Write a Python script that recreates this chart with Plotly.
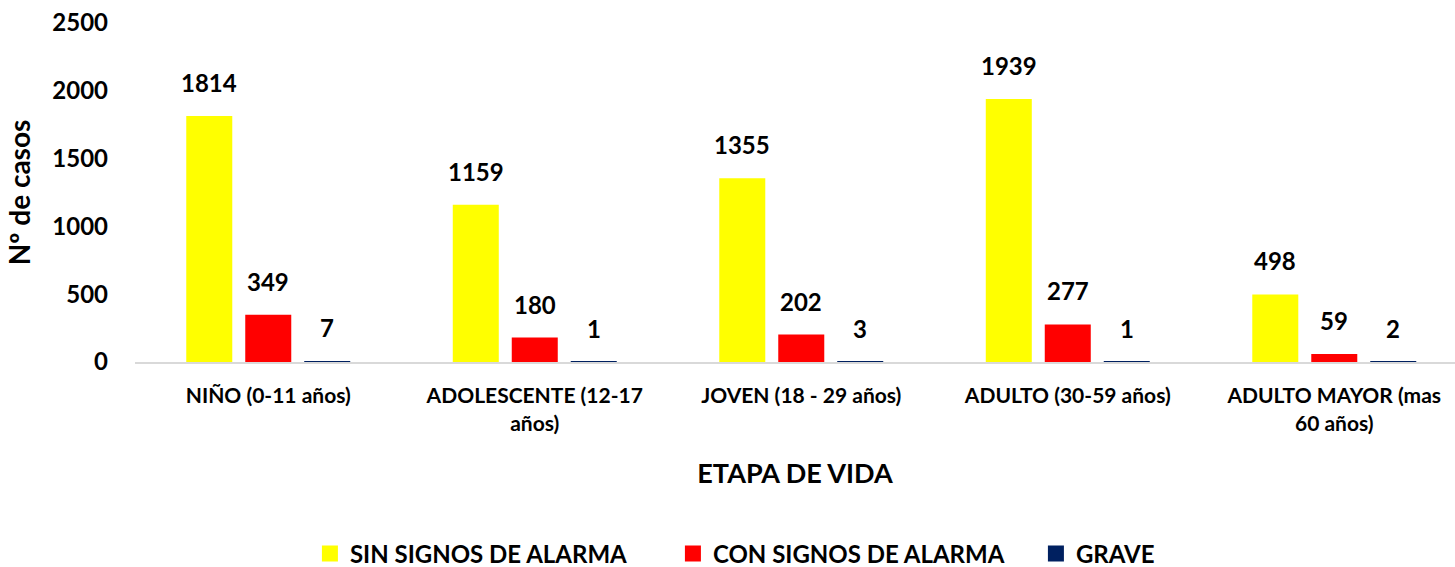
import plotly.graph_objects as go

categories = ["NIÑO (0-11 años)", "ADOLESCENTE (12-17<br>años)", "JOVEN (18 - 29 años)",
              "ADULTO (30-59 años)", "ADULTO MAYOR (mas<br>60 años)"]
sin_signos = [1814, 1159, 1355, 1939, 498]
con_signos = [349, 180, 202, 277, 59]
grave = [7, 1, 3, 1, 2]

series = [
    ("SIN SIGNOS DE ALARMA", sin_signos, "#FFFF00"),
    ("CON SIGNOS DE ALARMA", con_signos, "#FF0000"),
    ("GRAVE", grave, "#002060"),
]

W, H = 1455, 567
ML, MR, MT, MB = 135, 0, 23, 205
FONT = "Lato"
bargap = 0.336
xrange_ = [-0.5, 4.453]

fig = go.Figure()
for name, vals, color in series:
    fig.add_trace(go.Bar(name=name, x=categories, y=vals, marker_color=color,
                         marker_line_width=0, showlegend=False, legendgroup=name))
# legend entries with larger square swatches
for name, vals, color in series:
    fig.add_trace(go.Scatter(name=f"<b>{name}</b>", x=[None], y=[None], mode="markers",
                             marker=dict(symbol="square", size=16, color=color),
                             legendgroup=name, showlegend=True))

# label offsets in pixels for grouped bars
plot_w = W - ML - MR
cat_px = plot_w / (xrange_[1] - xrange_[0])
slot_px = cat_px * (1 - bargap) / len(series)
annotations = []
for i, (name, vals, color) in enumerate(series):
    shift = (i - (len(series) - 1) / 2) * slot_px
    for c, v in zip(categories, vals):
        annotations.append(dict(x=c, y=v, text=f"<b>{v}</b>", showarrow=False,
                                xshift=shift, yshift=17, yanchor="bottom",
                                font=dict(family=FONT, size=24, color="#000")))

fig.update_layout(
    width=W, height=H,
    margin=dict(l=ML, r=MR, t=MT, b=MB, autoexpand=False),
    paper_bgcolor="white", plot_bgcolor="white",
    barmode="group", bargap=bargap, bargroupgap=0.22,
    font=dict(family=FONT, color="#000"),
    annotations=annotations,
    legend=dict(orientation="h", x=0.213, xanchor="left", xref="container",
                y=0.023, yanchor="middle", yref="container", traceorder="normal",
                font=dict(family=FONT, size=24, color="#000"),
                itemwidth=30, entrywidth=318),
    xaxis=dict(range=xrange_, showline=True, linecolor="#D9D9D9", linewidth=2,
               ticks="", tickfont=dict(family=FONT, size=21, color="#000"),
               ticklabelstandoff=14, automargin=False,
               tickprefix="<b>", ticksuffix="</b>",
               title=dict(text="<b>ETAPA DE VIDA</b>", font=dict(family=FONT, size=27), standoff=31),
               fixedrange=True),
    yaxis=dict(range=[0, 2500], dtick=500, showgrid=False, zeroline=False, showline=False,
               tickfont=dict(family=FONT, size=24, color="#000"), ticklabelstandoff=26,
               automargin=False, tickprefix="<b>", ticksuffix="</b>",
               title=dict(text="<b>Nº de casos</b>", font=dict(family=FONT, size=28), standoff=13)),
)

fig.write_html("out.html", config={"displayModeBar": False},
               post_script="document.body.style.margin='0';document.body.style.overflow='hidden';")
